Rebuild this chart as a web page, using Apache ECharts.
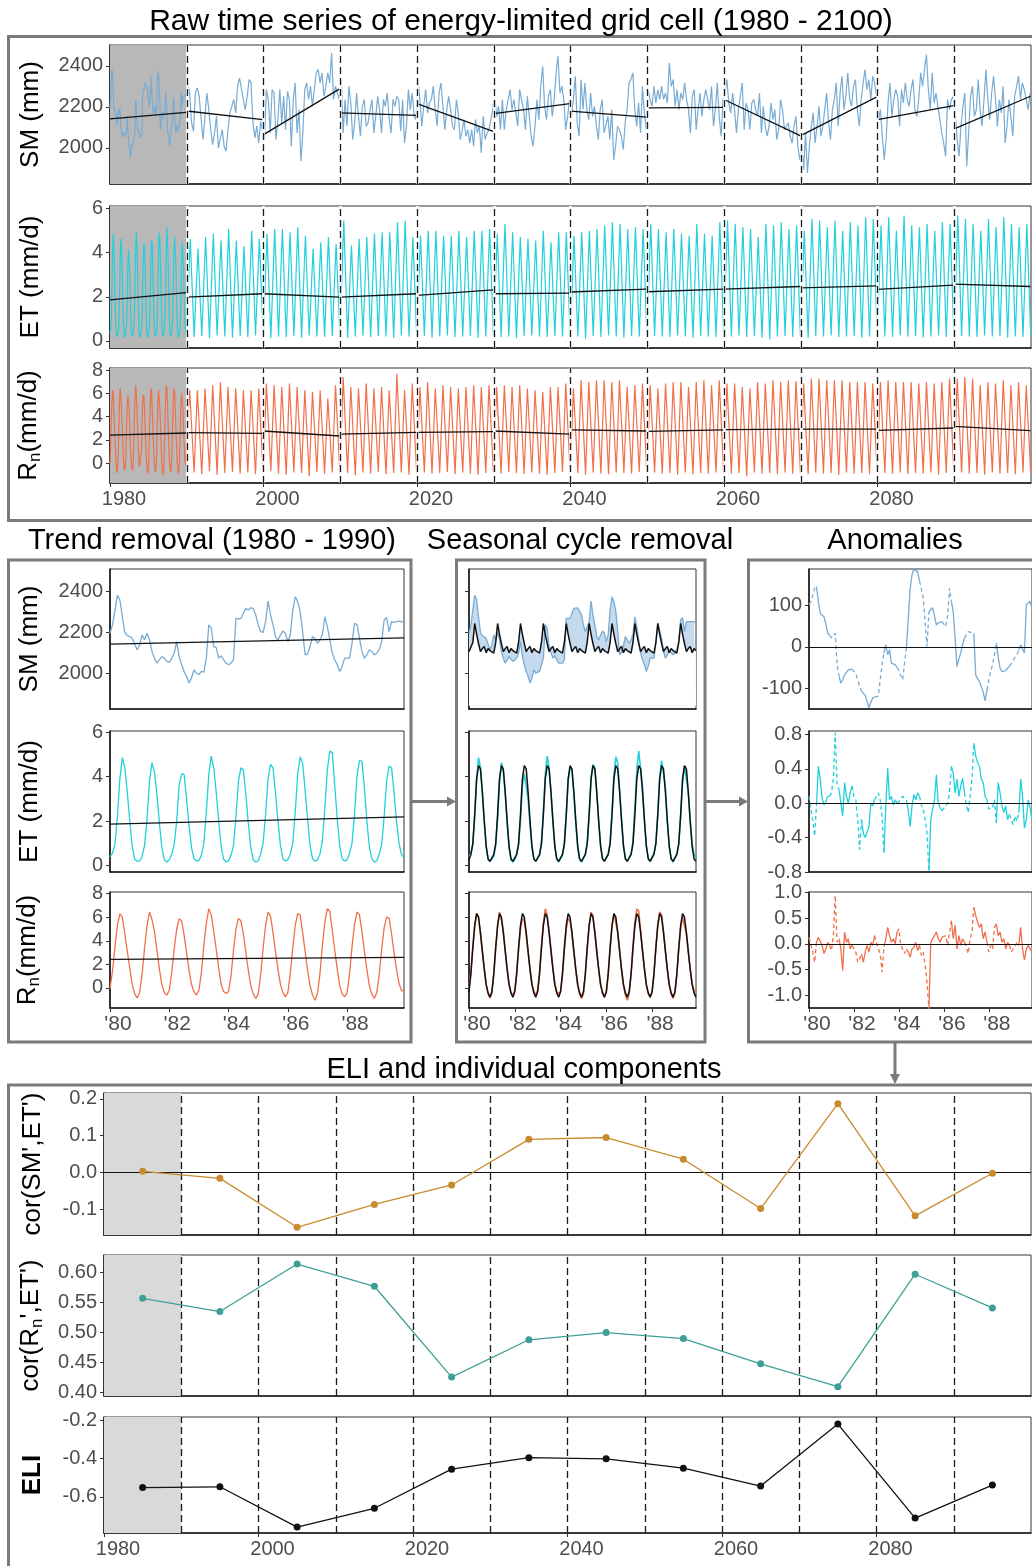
<!DOCTYPE html>
<html>
<head>
<meta charset="utf-8">
<script src="https://cdn.jsdelivr.net/npm/echarts@6/dist/echarts.min.js"></script>
<style>
html,body{margin:0;padding:0;background:#fff;}
#main{width:1032px;height:1566px;}
</style>
</head>
<body>
<div id="main"></div>
<script>
// ---------------- data ----------------
const decadeStarts = [1980,1990,2000,2010,2020,2030,2040,2050,2060,2070,2080,2090];
const decadeBreaks = [1990,2000,2010,2020,2030,2040,2050,2060,2070,2080,2090];
const windowMid = [1985,1995,2005,2015,2025,2035,2045,2055,2065,2075,2085,2095];

const yearTicks = [1980,2000,2020,2040,2060,2080];
const shortYearTicks = [1980,1982,1984,1986,1988];
const smTicks = [2000,2200,2400];
const etTicks = [0,2,4,6];
const rnTicks = [0,2,4,6,8];
const smAnomTicks = [-100,0,100];
const etAnomTicks = [-0.8,-0.4,0,0.4,0.8];
const rnAnomTicks = [-1,-0.5,0,0.5,1];
const corSmTicks = [-0.1,0,0.1,0.2];
const corRnTicks = [0.4,0.45,0.5,0.55,0.6];
const eliTicks = [-0.6,-0.4,-0.2];

// monthly values 1980-1989
const smMonthly = [
 2195,2236,2309,2382,2358,2276,2200,2184,2179,2171,2141,2114,
 2138,2187,2163,2195,2163,2106,2073,2049,2065,2081,2073,2057,
 2052,2073,2098,2154,2081,2041,2008,1984,1951,1976,2016,2000,
 1992,2008,2005,2073,2236,2220,2130,2125,2073,2085,2065,2049,
 2041,2049,2065,2268,2265,2268,2293,2317,2309,2320,2317,2285,
 2236,2203,2200,2252,2353,2285,2236,2179,2163,2187,2206,2195,
 2154,2187,2309,2374,2350,2301,2203,2089,2093,2130,2179,2171,
 2146,2163,2190,2276,2228,2163,2098,2065,2041,2008,2033,2073,
 2073,2073,2146,2244,2239,2171,2106,2073,2089,2114,2106,2089,
 2098,2114,2154,2260,2272,2203,2252,2249,2252,2255,2252,2249];
const etMonthly = [
 0.38,0.55,0.95,2.2,3.9,4.86,4.4,3.3,2.0,0.85,0.28,0.18,
 0.2,0.4,0.9,2.1,3.8,4.63,4.2,3.2,1.9,0.8,0.25,0.15,
 0.25,0.5,0.95,2.0,3.6,4.13,4.1,3.0,1.8,0.8,0.3,0.2,
 0.22,0.45,1.0,2.4,4.1,4.93,4.4,3.3,2.0,0.85,0.28,0.15,
 0.2,0.45,0.9,2.2,3.8,4.4,4.3,3.2,1.9,0.8,0.25,0.15,
 0.2,0.5,1.0,2.3,3.9,4.55,4.4,3.3,2.0,0.9,0.3,0.2,
 0.25,0.5,1.0,2.4,4.1,4.9,4.6,3.4,2.1,0.9,0.3,0.2,
 0.25,0.5,1.1,2.6,4.3,5.15,5.1,3.6,2.1,0.9,0.3,0.2,
 0.25,0.55,1.0,2.3,4.0,4.72,4.7,3.5,2.0,0.85,0.3,0.15,
 0.2,0.5,0.95,2.2,3.8,4.48,4.4,3.3,2.0,1.0,0.5,0.35];
const rnMonthly = [
 -0.05,1.4,3.5,5.3,6.3,6.0,4.6,3.1,1.7,0.3,-0.5,-0.84,
 -0.4,1.2,3.4,5.3,6.44,5.8,4.8,3.2,1.6,0.3,-0.4,-0.61,
 -0.2,1.3,3.3,5.0,5.87,5.7,4.5,3.0,1.5,0.3,-0.3,-0.6,
 -0.2,1.3,3.6,5.5,6.72,6.2,4.8,3.3,1.7,0.3,-0.3,-0.47,
 -0.3,1.0,3.2,5.0,5.9,5.7,4.6,3.0,1.5,0.2,-0.5,-0.9,
 -0.5,1.1,3.4,5.3,6.44,6.1,4.7,3.1,1.6,0.3,-0.4,-0.75,
 -0.4,1.2,3.4,5.3,6.3,6.2,4.7,3.1,1.5,0.2,-0.6,-1.04,
 -0.5,1.2,3.6,5.6,6.72,6.5,4.9,3.2,1.6,0.2,-0.5,-0.75,
 -0.4,1.2,3.5,5.4,6.44,6.2,4.8,3.1,1.6,0.2,-0.5,-0.9,
 -0.4,1.1,3.3,5.1,6.01,5.9,4.6,3.0,1.6,0.4,-0.2,-0.3];

// mean seasonal cycle (Jan..Dec)
const smClim = [2105,2098,2150,2243,2190,2145,2105,2120,2130,2100,2120,2110];
const etClim = [0.24,0.49,0.98,2.3,3.9,4.5,4.35,3.3,2.0,0.87,0.3,0.18];
const rnClim = [-0.33,1.2,3.4,5.3,6.3,6.0,4.7,3.1,1.6,0.3,-0.42,-0.78];

// monthly anomalies 1980-1989
const smAnom = [
 103,110,125,142,146,110,81,78,73,55,33,28,
 22,25,33,-43,-70,-88,-80,-68,-62,-56,-55,-54,
 -53,-65,-80,-95,-108,-104,-118,-132,-148,-135,-124,-122,
 -121,-120,-80,-43,-15,5,-19,-7,-40,-42,-43,-50,
 -58,-70,-80,-40,-3,70,142,175,189,186,182,160,
 140,118,60,1,85,90,95,98,53,58,62,61,
 55,49,77,142,110,85,20,-48,-30,-15,5,21,
 30,37,35,34,33,-68,-78,-84,-85,-110,-131,-105,
 -80,-60,-43,-20,9,-25,-52,-60,-64,-58,-52,-47,
 -40,-32,-25,-19,-8,5,-5,-15,102,106,110,94];
const etAnom = [
 0.08,-0.07,-0.2,-0.38,-0.03,0.43,0.28,0.06,-0.02,0.02,0.08,0.08,
 0.12,0.28,0.82,0.2,0.16,0.18,-0.15,0.24,0.08,0,0.12,0.2,
 0.08,0.04,-0.19,-0.54,-0.19,-0.35,-0.4,-0.42,-0.27,0,-0.03,0.04,
 0.08,0.12,0.04,-0.15,-0.58,-0.03,0.41,0.04,0.08,-0.02,0.04,0,
 -0.02,0.04,0.08,0.09,0.04,-0.09,-0.27,-0.03,0.1,0.04,0.12,0.08,
 -0.02,-0.07,-0.19,-0.35,-0.79,-0.19,-0.07,0.04,0.33,0,-0.05,-0.09,
 -0.07,-0.03,0,0.12,0.43,0.35,0.12,0.28,0.08,0.2,0.29,0.12,
 -0.02,-0.11,0.08,0.28,0.7,0.55,0.47,0.43,0.28,0.24,0.08,0.04,
 -0.07,-0.09,-0.05,0.04,-0.23,0.24,0.12,-0.03,-0.11,-0.03,-0.19,-0.13,
 -0.11,-0.25,-0.15,-0.21,-0.11,0.28,0.08,-0.29,-0.19,0.04,-0.05,-0.19];
const rnAnom = [
 0.13,0.1,-0.16,-0.36,0.03,0.13,0.1,-0.03,-0.19,-0.1,0.03,-0.03,
 -0.13,0.16,0.94,0.03,0.1,-0.1,-0.52,0.23,0.03,0.1,-0.1,-0.03,
 0,-0.16,-0.36,-0.29,-0.19,-0.36,-0.16,-0.03,-0.16,0.03,-0.03,0.16,
 0.03,-0.1,-0.19,-0.55,-0.06,0.1,0.32,0.16,0.03,0.1,0,0.23,
 0.29,-0.03,-0.1,-0.19,-0.1,-0.16,-0.26,-0.1,-0.06,0.03,-0.13,-0.03,
 -0.23,-0.16,-0.42,-0.75,-1.27,0.03,0.06,0.16,0.23,0.1,0.03,0.13,
 0.1,0.16,-0.03,0.23,0.45,0.1,0.36,-0.1,0.16,-0.03,0.1,0.03,
 -0.06,-0.19,0.1,0.23,0.71,0.55,0.42,0.32,0.39,0.1,0.23,0.03,
 -0.16,-0.03,-0.1,0.32,0.39,0.16,0.23,0.03,0.1,-0.1,0.03,-0.03,
 -0.16,-0.1,-0.06,0.03,-0.03,0.32,-0.1,-0.32,-0.1,-0.03,-0.06,-0.16];
// months (0 = Jan) outside the analysed season, drawn dashed
const offSeasonMonths = [0,1,2,3];

// soil moisture 1990-2099, four values per year
const smQuarterly = [
 2317,2268,2122,2081, 2268,2293,2252,2138, 2041,2154,2268,2187, 2089,2016,2073,2154, 2000,1992,2089,2008, 1984,2089,2171,2203, 2236,2171,2301,2341, 2333,2236,2187,2252, 2333,2317,2122,2049, 2106,2024,2130,2138,
 2041,2285,2236,2073, 2285,2268,2041,2138, 2285,2122,2252,2089, 2276,2236,2008,2236, 2317,2073,2187,1935, 2073,2285,2317,2236, 2301,2203,2285,2366, 2382,2317,2366,2252, 2301,2366,2317,2463, 2236,2301,2268,2236,
 2333,2073,2236,2106, 2301,2220,2041,2122, 2268,2154,2057,2203, 2236,2106,2122,2187, 2236,2073,2154,2252, 2187,2073,2236,2203, 2268,2138,2073,2236, 2203,2252,2236,2081, 2236,2024,2106,2285, 2187,2268,2154,2138,
 2333,2236,2106,2203, 2285,2171,2220,2236, 2301,2187,2106,2268, 2317,2203,2089,2187, 2252,2187,2106,2089, 2236,2171,2041,2081, 2138,2057,2089,2024, 2089,2008,2138,2073, 2106,1976,2154,2041, 2073,2089,2138,2187,
 2252,2154,2203,2089, 2236,2089,2187,2236, 2285,2187,2236,2171, 2106,2285,2236,2187, 2089,2252,2154,2057, 2008,2106,2236,2138, 2301,2398,2203,2138, 2252,2285,2154,2236, 2366,2447,2268,2301, 2236,2089,2154,2236,
 2154,2236,2350,2122, 2057,2333,2187,2317, 2187,2138,2268,2154, 2203,2106,2041,2187, 2236,2073,2073,2154, 2041,2187,1943,2008, 2106,2089,2057,1992, 2122,2187,2317,2333, 2366,2187,2106,2220, 2073,2301,2171,2089,
 2285,2236,2203,2301, 2220,2285,2236,2301, 2236,2268,2220,2415, 2301,2333,2203,2285, 2187,2268,2236,2317, 2236,2187,2073,2252, 2285,2089,2187,2268, 2154,2236,2285,2236, 2187,2301,2106,2187, 2317,2154,2057,2236,
 2268,2333,2220,2171, 2268,2187,2073,2187, 2252,2317,2089,2220, 2187,2089,2220,2236, 2187,2154,2268,2073, 2203,2106,2057,2106, 2220,2138,2187,2041, 2089,2236,2187,2089, 2106,2122,2057,2024, 2106,2154,2008,1943,
 2024,1894,2073,1878, 2008,2106,2171,2024, 2106,2203,2057,2106, 2187,2268,2122,2041, 2187,2236,2317,2106, 2268,2350,2187,2252, 2366,2236,2203,2301, 2333,2187,2106,2236, 2317,2382,2285,2333, 2236,2350,2317,2252,
 2138,2187,2057,1943, 2041,2220,2317,2154, 2236,2285,2252,2106, 2285,2220,2317,2236, 2203,2285,2333,2187, 2154,2236,2366,2301, 2382,2455,2285,2187, 2366,2220,2268,2203, 2138,2073,2024,1959, 2236,2187,2236,2252,
 2171,2041,1959,2106, 2203,2268,1911,2073, 2252,2301,2154,2187, 2333,2187,2106,2236, 2382,2236,2138,2268, 2350,2236,2106,2236, 2171,2301,2024,2106, 2236,2154,2057,2252, 2301,2350,2236,2317, 2285,2236,2187,2268];

// yearly summer peak and winter low, 1990-2099
const etPeak = [
 4.63,4.18,4.71,4.86,4.55,5.08,4.55,4.30,5.0,4.63,
 4.86,5.08,5.08,4.93,5.16,4.78,4.18,4.48,4.71,4.40,
 5.46,4.33,4.63,4.71,4.86,4.93,4.93,5.38,5.46,4.71,
 4.78,5.0,5.0,4.78,4.78,5.0,4.71,5.0,5.0,5.08,
 4.86,5.3,4.93,4.71,4.63,4.55,5.0,4.48,4.93,4.93,
 4.78,4.93,5.0,5.08,5.23,5.38,5.3,5.08,5.16,5.08,
 5.3,5.08,4.93,5.08,4.86,4.78,5.3,4.86,4.78,5.38,
 5.46,5.3,5.16,5.08,4.71,5.3,5.23,5.38,5.08,5.23,
 5.0,5.53,5.46,5.16,5.46,5.0,5.38,5.23,5.61,5.53,
 5.23,5.61,5.0,5.69,5.23,5.16,5.3,5.0,5.38,5.3,
 5.69,5.53,5.3,5.0,5.53,5.16,5.61,5.3,5.16,5.3];
const etLow = [
 0.18,0.22,0.12,0.25,0.2,0.15,0.22,0.18,0.25,0.2,
 0.12,0.2,0.18,0.22,0.15,0.25,0.2,0.18,0.22,0.28,
 0.15,0.2,0.25,0.18,0.22,0.2,0.15,0.25,0.2,0.22,
 0.22,0.15,0.2,0.25,0.18,0.2,0.22,0.15,0.2,0.25,
 0.18,0.2,0.12,0.22,0.25,0.2,0.18,0.22,0.2,0.15,
 0.2,0.1,0.22,0.18,0.25,0.2,0.15,0.22,0.2,0.18,
 0.22,0.2,0.18,0.25,0.2,0.15,0.22,0.2,0.18,0.25,
 0.2,0.25,0.18,0.22,0.15,0.08,0.2,0.22,0.18,0.2,
 0.15,0.22,0.2,0.25,0.18,0.2,0.22,0.15,0.2,0.22,
 0.2,0.18,0.25,0.2,0.22,0.15,0.2,0.25,0.18,0.2,
 0.22,0.2,0.18,0.25,0.2,0.22,0.15,0.2,0.18,0.25];
const rnPeak = [
 6.29,6.29,6.43,6.71,7.0,6.57,6.43,6.29,6.29,6.43,
 6.86,6.71,6.57,6.86,6.57,6.29,6.14,6.29,5.57,6.71,
 7.43,6.57,6.43,6.86,6.43,6.57,6.29,7.71,6.29,6.86,
 6.57,7.0,6.43,6.71,6.57,6.43,6.57,6.71,6.57,6.71,
 6.57,6.71,6.57,6.71,6.43,6.29,6.14,6.57,6.57,6.86,
 6.43,7.14,7.0,7.14,7.14,7.0,7.14,6.57,6.71,6.86,
 6.71,6.43,6.86,7.0,7.0,6.57,7.0,7.14,6.71,7.14,
 6.86,6.86,6.57,6.43,7.0,6.86,7.14,7.0,7.14,7.08,
 6.86,7.29,7.29,7.14,7.14,7.14,7.0,7.0,7.0,6.86,
 7.0,7.14,7.0,7.0,7.0,6.86,7.0,6.86,7.0,7.29,
 7.29,7.43,7.29,6.71,7.0,6.86,7.14,6.71,7.0,6.71];
const rnLow = [
 -0.8,-0.95,-0.7,-1.0,-0.85,-0.75,-0.9,-0.8,-0.95,-0.85,
 -0.7,-0.9,-1.0,-0.8,-0.85,-1.1,-0.75,-0.9,-0.8,-0.95,
 -0.85,-1.05,-0.8,-0.9,-0.75,-0.95,-0.85,-0.8,-1.0,-0.9,
 -0.8,-0.9,-0.85,-0.75,-0.95,-0.8,-0.9,-1.0,-0.85,-0.8,
 -0.9,-0.75,-0.85,-0.95,-0.8,-0.9,-1.0,-0.85,-0.75,-0.9,
 -0.85,-1.0,-0.8,-0.9,-0.95,-0.8,-0.85,-0.9,-0.75,-0.95,
 -0.8,-0.9,-0.85,-1.0,-0.8,-0.95,-0.85,-0.9,-0.8,-0.85,
 -0.9,-0.85,-1.15,-0.8,-0.9,-0.85,-0.95,-0.8,-0.9,-0.85,
 -0.95,-0.8,-0.9,-0.85,-1.0,-0.8,-0.9,-0.85,-0.95,-0.8,
 -0.85,-0.9,-0.8,-0.95,-0.85,-0.9,-0.8,-1.0,-0.85,-0.9,
 -0.8,-0.9,-0.85,-1.0,-0.8,-0.9,-0.85,-0.95,-0.8,-0.9];

// linear trend per decade: value at start and end of each window
const smTrendStart = [2142,2180,2065,2171,2216,2167,2179,2195,2236,2060,2138,2093];
const smTrendEnd   = [2173,2138,2288,2159,2081,2216,2150,2198,2060,2249,2206,2252];
const etTrendStart = [1.86,1.99,2.14,1.99,2.07,2.14,2.22,2.23,2.35,2.41,2.34,2.58];
const etTrendEnd   = [2.19,2.14,1.99,2.14,2.32,2.17,2.35,2.35,2.47,2.50,2.53,2.47];
const rnTrendStart = [2.42,2.63,2.77,2.51,2.66,2.77,2.86,2.74,2.89,2.94,2.83,3.17];
const rnTrendEnd   = [2.60,2.57,2.34,2.66,2.71,2.51,2.77,2.86,2.94,2.94,3.03,2.80];

// correlations per decade and the resulting index
const corSmEt = [0.003,-0.016,-0.149,-0.087,-0.034,0.090,0.095,0.036,-0.098,0.187,-0.118,-0.002];
const corRnEt = [0.557,0.535,0.614,0.577,0.426,0.488,0.500,0.490,0.448,0.410,0.597,0.541];
const eli = [-0.551,-0.547,-0.757,-0.659,-0.455,-0.395,-0.401,-0.450,-0.543,-0.220,-0.710,-0.538];

// ---------------- styling ----------------
const FONT = "'Liberation Sans', Arial, Helvetica, sans-serif";
const TICK_TXT = '#4d4d4d';
const COL = { sm: '#78acd4', et: '#22d0dc', rn: '#f0704b', corSm: '#c78b2d', corRn: '#3da096', frame: '#7a7a7a', shadeDark: '#b8b8b8', shadeLight: '#d9d9d9', band: '#c6daee' };

// ---------------- derived series ----------------
const monthX = m => 1980 + m / 12;
const smFull = smMonthly.map((v, m) => [monthX(m), v]);
smQuarterly.forEach((v, i) => smFull.push([1990 + Math.floor(i / 4) + (i % 4) * 0.25 + 0.125, v]));
const etFull = etMonthly.map((v, m) => [monthX(m), v]);
etPeak.forEach((v, i) => { etFull.push([1990 + i + 0.46, v]); etFull.push([1990 + i + 0.96, etLow[i]]); });
const rnFull = rnMonthly.map((v, m) => [monthX(m), v]);
rnPeak.forEach((v, i) => { rnFull.push([1990 + i + 0.38, v]); rnFull.push([1990 + i + 0.96, rnLow[i]]); });

function trendData(starts, ends, count) {
  const out = [];
  for (let k = 0; k < count; k++) {
    out.push([decadeStarts[k], starts[k]]);
    out.push([decadeStarts[k] + 9.92, ends[k]]);
    out.push([decadeStarts[k] + 9.96, null]);
  }
  return out;
}
const climLine = clim => smMonthly.map((_, m) => [monthX(m), clim[m % 12]]);

// ---------------- layout helpers ----------------
const grids = [], xAxes = [], yAxes = [], series = [];
const nameStyle = {
  fontFamily: FONT, fontSize: 26, color: '#000',
  rich: {
    a: { fontFamily: FONT, fontSize: 26, color: '#000', lineHeight: 30 },
    s: { fontFamily: FONT, fontSize: 17, color: '#000', lineHeight: 18, padding: [13, 0, 0, 0] }
  }
};

function panel(o) {
  const gi = grids.length;
  grids.push({ left: o.left, top: o.top, width: o.width, height: o.height, show: true, borderColor: '#333', borderWidth: 1, backgroundColor: 'rgba(0,0,0,0)' });
  xAxes.push({
    gridIndex: gi, type: 'value', min: o.x[0], max: o.x[1],
    axisLine: { show: true, onZero: false, lineStyle: { color: '#1a1a1a', width: 1.6 } },
    axisTick: { show: !!o.xLabels, customValues: o.xTicks, length: 4, lineStyle: { color: '#333', width: 1 } },
    axisLabel: { show: !!o.xLabels, customValues: o.xTicks, formatter: o.xFmt, color: TICK_TXT, fontFamily: FONT, fontSize: o.xFont || 20, margin: 6, padding: [0, 0, 0, o.xShift || 0] },
    splitLine: { show: false }
  });
  yAxes.push({
    gridIndex: gi, type: 'value', min: o.y[0], max: o.y[1],
    name: o.name || '', nameLocation: 'middle', nameGap: o.nameGap || 60, nameRotate: 90,
    nameTextStyle: Object.assign({}, nameStyle, o.nameBold ? { fontWeight: 'bold' } : {}),
    axisLine: { show: true, onZero: false, lineStyle: { color: '#1a1a1a', width: 1.6 } },
    axisTick: { show: true, customValues: o.yTicks, length: 4, lineStyle: { color: '#333', width: 1 } },
    axisLabel: { show: o.yLabels !== false, customValues: o.yTicks, formatter: v => v.toFixed(o.dec || 0), color: TICK_TXT, fontFamily: FONT, fontSize: o.yFont || 20, margin: 7 },
    splitLine: { show: false }
  });
  return gi;
}

function line(gi, data, color, width, extra) {
  series.push(Object.assign({
    type: 'line', xAxisIndex: gi, yAxisIndex: gi, data: data, showSymbol: false, symbol: 'none',
    lineStyle: { color: color, width: width }, itemStyle: { color: color }, animation: false, silent: true, z: 2, connectNulls: false
  }, extra || {}));
}

function decor(gi, shadeColor, withGap) {
  if (shadeColor) {
    series.push({ type: 'line', xAxisIndex: gi, yAxisIndex: gi, data: [], silent: true, animation: false,
      markArea: { silent: true, animation: false, z: 1, itemStyle: { color: shadeColor }, data: [[{ xAxis: 1980 }, { xAxis: 1990 }]] } });
  }
  if (withGap) {
    series.push({ type: 'line', xAxisIndex: gi, yAxisIndex: gi, data: [], silent: true, animation: false,
      markLine: { silent: true, animation: false, z: 4, symbol: ['none', 'none'], label: { show: false },
        lineStyle: { type: 'solid', color: '#fff', width: 2.5 }, data: decadeBreaks.map(v => ({ xAxis: v })) } });
  }
  series.push({ type: 'line', xAxisIndex: gi, yAxisIndex: gi, data: [], silent: true, animation: false,
    markLine: { silent: true, animation: false, z: 5, symbol: ['none', 'none'], label: { show: false },
      lineStyle: { type: [7, 4], color: '#1a1a1a', width: 1.3 }, data: decadeBreaks.map(v => ({ xAxis: v })) } });
}

function zeroLine(gi) {
  series.push({ type: 'line', xAxisIndex: gi, yAxisIndex: gi, data: [], silent: true, animation: false,
    markLine: { silent: true, animation: false, z: 6, symbol: ['none', 'none'], label: { show: false },
      lineStyle: { type: 'solid', color: '#111', width: 1.1 }, data: [{ yAxis: 0 }] } });
}

function anomalyLines(gi, values, color) {
  const off = m => offSeasonMonths.indexOf(m % 12) >= 0;
  const solid = values.map((v, m) => [monthX(m), off(m) ? null : v]);
  const dashed = values.map((v, m) => {
    const near = off(m) || (m > 0 && off(m - 1)) || (m < values.length - 1 && off(m + 1));
    return [monthX(m), near ? v : null];
  });
  line(gi, solid, color, 1.3);
  line(gi, dashed, color, 1.3, { lineStyle: { color: color, width: 1.3, type: [4, 3] } });
}

const yrFmt = v => String(v);
const shortFmt = v => "'" + String(v).slice(2);

// ---------------- top: raw series 1980-2100 ----------------
const TOP = { left: 110, width: 921, x: [1980, 2100] };
const gSM = panel(Object.assign({}, TOP, { top: 45, height: 139, y: [1824, 2502], yTicks: smTicks, xTicks: yearTicks, name: 'SM (mm)', nameGap: 66 }));
const gET = panel(Object.assign({}, TOP, { top: 206, height: 142, y: [-0.32, 6.12], yTicks: etTicks, xTicks: yearTicks, name: 'ET (mm/d)', nameGap: 66 }));
const gRN = panel(Object.assign({}, TOP, { top: 368, height: 115, y: [-1.71, 8.2], yTicks: rnTicks, xTicks: yearTicks, xLabels: true, xFmt: yrFmt, xShift: 28, name: '{a|R}{s|n}{a|(mm/d)}', nameGap: 66 }));
[gSM, gET, gRN].forEach(g => decor(g, COL.shadeDark, true));
line(gSM, smFull, COL.sm, 1.2);
line(gET, etFull, COL.et, 1.2);
line(gRN, rnFull, COL.rn, 1.2);
line(gSM, trendData(smTrendStart, smTrendEnd, 12), '#111', 1.3, { z: 3 });
line(gET, trendData(etTrendStart, etTrendEnd, 12), '#111', 1.3, { z: 3 });
line(gRN, trendData(rnTrendStart, rnTrendEnd, 12), '#111', 1.3, { z: 3 });

// ---------------- middle: one decade in detail ----------------
const MX = [1980, 1989.92];
const rows = [
  { top: 569, height: 140, y: [1824, 2510], yTicks: smTicks },
  { top: 731, height: 141, y: [-0.3, 6.06], yTicks: etTicks },
  { top: 892, height: 116, y: [-1.7, 8.14], yTicks: rnTicks }
];
const rowNames = ['SM (mm)', 'ET (mm/d)', '{a|R}{s|n}{a|(mm/d)}'];
// left column: trend removal
const gL = rows.map((r, i) => panel(Object.assign({ left: 110, width: 294, x: MX, xTicks: shortYearTicks, xLabels: i === 2, xFmt: shortFmt, xFont: 21, xShift: 16, name: rowNames[i], nameGap: 67 }, r)));
line(gL[0], smMonthly.map((v, m) => [monthX(m), v]), COL.sm, 1.3);
line(gL[1], etMonthly.map((v, m) => [monthX(m), v]), COL.et, 1.3);
line(gL[2], rnMonthly.map((v, m) => [monthX(m), v]), COL.rn, 1.3);
line(gL[0], trendData(smTrendStart, smTrendEnd, 1), '#111', 1.3, { z: 3 });
line(gL[1], trendData(etTrendStart, etTrendEnd, 1), '#111', 1.3, { z: 3 });
line(gL[2], trendData(rnTrendStart, rnTrendEnd, 1), '#111', 1.3, { z: 3 });

// centre column: seasonal cycle
const gC = rows.map((r, i) => panel(Object.assign({ left: 469, width: 227, x: MX, xTicks: shortYearTicks, xLabels: i === 2, xFmt: shortFmt, xFont: 21, xShift: 16, yLabels: false }, r)));
// shaded gap between soil moisture and its seasonal cycle: fill to the upper curve, then blank below the lower one
const BAND_BASE = 1840;
line(gC[0], smMonthly.map((v, m) => [monthX(m), Math.max(v, smClim[m % 12])]), COL.band, 0,
  { lineStyle: { width: 0, opacity: 0 }, areaStyle: { color: COL.band, opacity: 1, origin: BAND_BASE }, z: 1 });
line(gC[0], smMonthly.map((v, m) => [monthX(m), Math.min(v, smClim[m % 12])]), '#fff', 0,
  { lineStyle: { width: 0, opacity: 0 }, areaStyle: { color: '#fff', opacity: 1, origin: BAND_BASE }, z: 1 });
line(gC[0], smMonthly.map((v, m) => [monthX(m), v]), COL.sm, 1.3);
line(gC[0], climLine(smClim), '#111', 1.5, { z: 3 });
line(gC[1], etMonthly.map((v, m) => [monthX(m), v]), COL.et, 1.6);
line(gC[1], climLine(etClim), '#111', 1.5, { z: 3 });
line(gC[2], rnMonthly.map((v, m) => [monthX(m), v]), COL.rn, 1.6);
line(gC[2], climLine(rnClim), '#111', 1.5, { z: 3 });

// right column: anomalies
const anomRows = [
  { y: [-151, 189], yTicks: smAnomTicks, dec: 0 },
  { y: [-0.8, 0.84], yTicks: etAnomTicks, dec: 1 },
  { y: [-1.25, 1.01], yTicks: rnAnomTicks, dec: 1 }
];
const gA = rows.map((r, i) => panel(Object.assign({ left: 809, width: 223, x: MX, xTicks: shortYearTicks, xLabels: i === 2, xFmt: shortFmt, xFont: 21, xShift: 16 }, r, anomRows[i])));
anomalyLines(gA[0], smAnom, COL.sm);
anomalyLines(gA[1], etAnom, COL.et);
anomalyLines(gA[2], rnAnom, COL.rn);
gA.forEach(zeroLine);

// ---------------- bottom: ELI and components ----------------
const BOT = { left: 104, width: 927, x: [1980, 2100], xTicks: yearTicks, nameGap: 58 };
const gB1 = panel(Object.assign({}, BOT, { top: 1093, height: 142, y: [-0.17, 0.216], yTicks: corSmTicks, dec: 1, name: "cor(SM',ET')" }));
const gB2 = panel(Object.assign({}, BOT, { top: 1255, height: 141, y: [0.3945, 0.629], yTicks: corRnTicks, dec: 2, name: "{a|cor(R}{s|n}{a|',ET')}" }));
const gB3 = panel(Object.assign({}, BOT, { top: 1417, height: 116, y: [-0.788, -0.183], yTicks: eliTicks, dec: 1, name: 'ELI', nameBold: true, xLabels: true, xFmt: yrFmt, xShift: 28 }));
[gB1, gB2, gB3].forEach(g => decor(g, COL.shadeLight, false));
zeroLine(gB1);
const pointOpts = { showSymbol: true, symbol: 'circle', symbolSize: 7, z: 7 };
line(gB1, windowMid.map((x, i) => [x, corSmEt[i]]), COL.corSm, 1.3, pointOpts);
line(gB2, windowMid.map((x, i) => [x, corRnEt[i]]), COL.corRn, 1.3, pointOpts);
line(gB3, windowMid.map((x, i) => [x, eli[i]]), '#111', 1.3, pointOpts);

// ---------------- frames, headings, arrows ----------------
const frame = { fill: 'none', stroke: COL.frame, lineWidth: 3 };
const heading = (text, x, y, size) => ({ type: 'text', x: x, y: y, silent: true, z: 10,
  style: { text: text, fill: '#000', fontFamily: FONT, fontSize: size || 29, align: 'center', verticalAlign: 'middle' } });
const arrowStyle = { stroke: COL.frame, lineWidth: 3 };
const graphic = [
  { type: 'rect', silent: true, shape: { x: 8.5, y: 36.5, width: 1100, height: 484 }, style: frame },
  { type: 'rect', silent: true, shape: { x: 8.5, y: 560, width: 402.5, height: 482 }, style: frame },
  { type: 'rect', silent: true, shape: { x: 456.5, y: 560, width: 248.5, height: 482 }, style: frame },
  { type: 'rect', silent: true, shape: { x: 748.5, y: 560, width: 400, height: 482 }, style: frame },
  { type: 'rect', silent: true, shape: { x: 8.5, y: 1085, width: 1100, height: 600 }, style: frame },
  heading('Raw time series of energy-limited grid cell (1980 - 2100)', 521, 22, 30),
  heading('Trend removal (1980 - 1990)', 212, 541),
  heading('Seasonal cycle removal', 580, 541),
  heading('Anomalies', 895, 541),
  heading('ELI and individual components', 524, 1070),
  { type: 'line', silent: true, shape: { x1: 411, y1: 801.5, x2: 449, y2: 801.5 }, style: arrowStyle },
  { type: 'polygon', silent: true, shape: { points: [[456, 801.5], [447, 796.5], [447, 806.5]] }, style: { fill: COL.frame } },
  { type: 'line', silent: true, shape: { x1: 705, y1: 801.5, x2: 741, y2: 801.5 }, style: arrowStyle },
  { type: 'polygon', silent: true, shape: { points: [[748, 801.5], [739, 796.5], [739, 806.5]] }, style: { fill: COL.frame } },
  { type: 'line', silent: true, shape: { x1: 895, y1: 1042, x2: 895, y2: 1076 }, style: arrowStyle },
  { type: 'polygon', silent: true, shape: { points: [[895, 1084], [890, 1074], [900, 1074]] }, style: { fill: COL.frame } }
];

const chart = echarts.init(document.getElementById('main'), null, { renderer: 'canvas' });
chart.setOption({
  animation: false,
  backgroundColor: '#fff',
  grid: grids,
  xAxis: xAxes,
  yAxis: yAxes,
  series: series,
  graphic: graphic
});
</script>
</body>
</html>
